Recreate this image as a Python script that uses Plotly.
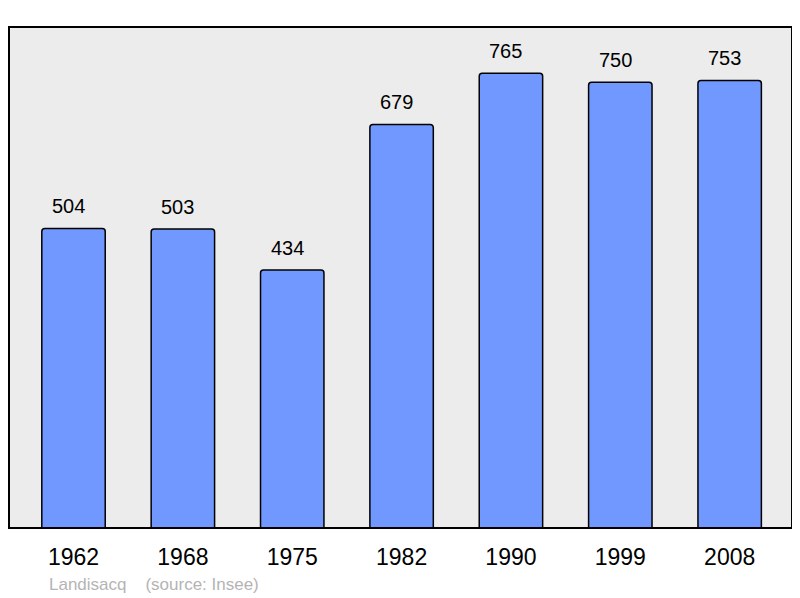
import plotly.graph_objects as go

years = ["1962", "1968", "1975", "1982", "1990", "1999", "2008"]
population = [504, 503, 434, 679, 765, 750, 753]
footer_text = "Landisacq    (source: Insee)"

FONT = "Liberation Sans, Arial, sans-serif"

fig = go.Figure()
fig.add_trace(go.Bar(
    x=list(range(len(years))), y=population,
    width=0.58,
    marker=dict(color="#7098ff", line=dict(color="#000000", width=1.5), cornerradius=3),
    hoverinfo="skip",
))
for i, v in enumerate(population):
    fig.add_annotation(x=i, y=v, text=str(v), showarrow=False, yanchor="bottom",
                       yshift=9, xshift=-5,
                       font=dict(size=20, color="#000000", family=FONT))

fig.add_shape(type="rect", xref="paper", yref="paper", x0=0, y0=0, x1=1, y1=1,
              line=dict(color="#000000", width=2), layer="above")
fig.add_annotation(xref="paper", yref="paper", x=0.048, y=-0.112, xanchor="left",
                   yanchor="middle", text=footer_text, showarrow=False,
                   font=dict(size=17, color="#b4b4b4", family=FONT))

fig.update_layout(
    width=792, height=590,
    margin=dict(l=1, r=8, t=19, b=70),
    paper_bgcolor="#ffffff", plot_bgcolor="#ececec",
    showlegend=False,
    xaxis=dict(range=[-0.59, 6.57], tickmode="array", tickvals=list(range(len(years))),
               ticktext=years, showgrid=False, zeroline=False, ticks="",
               ticklabelstandoff=13,
               tickfont=dict(size=23, color="#000000", family=FONT)),
    yaxis=dict(range=[0, 843], showgrid=False, zeroline=False, showticklabels=False,
               ticks=""),
)
fig.write_html("out.html")
